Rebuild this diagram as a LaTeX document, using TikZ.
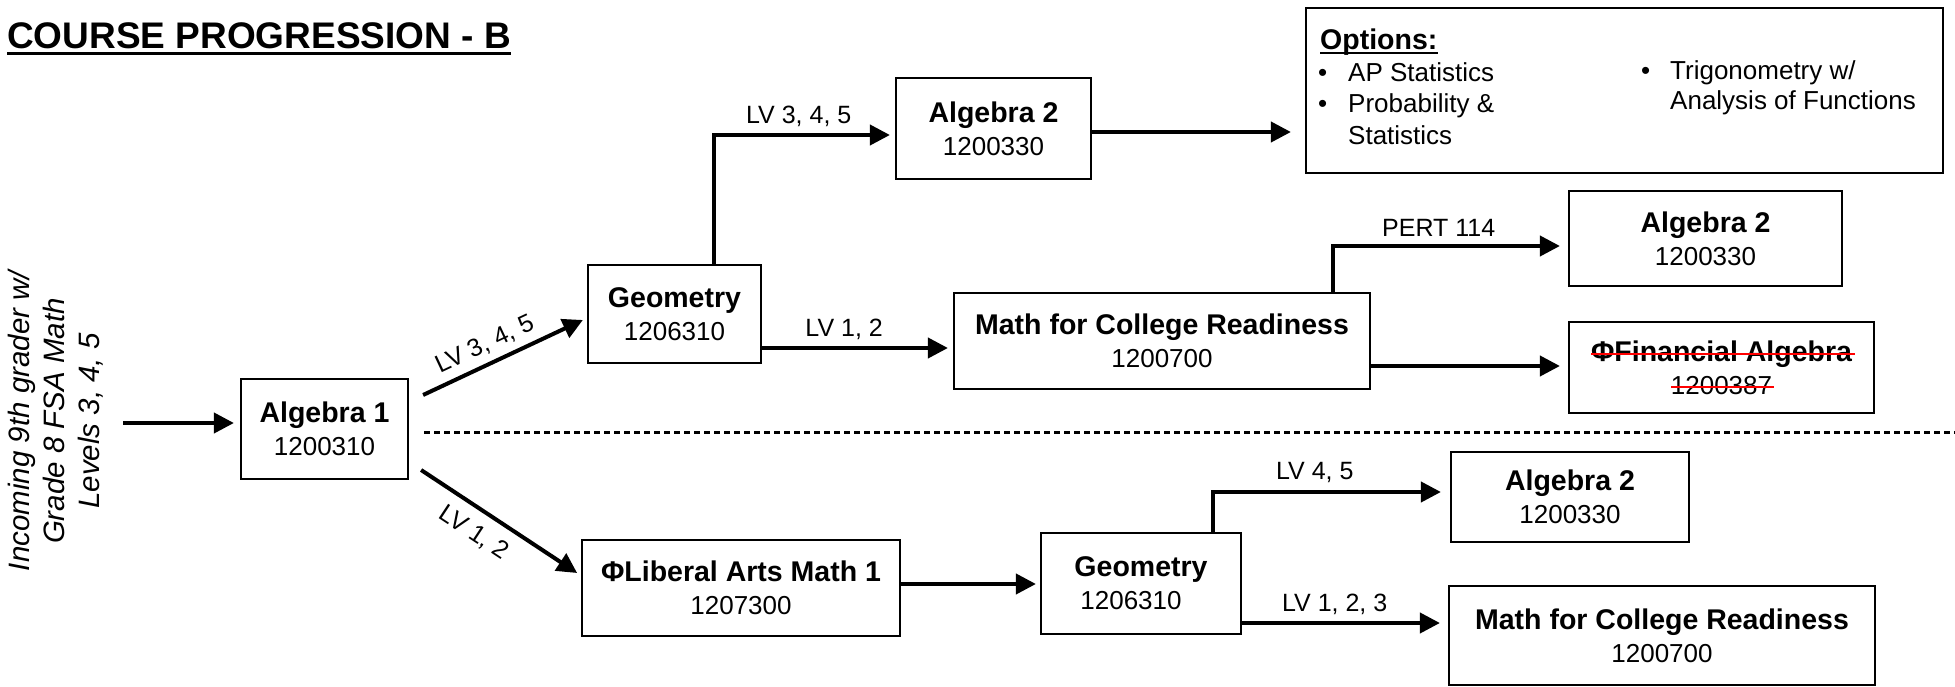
\documentclass[tikz,border=0pt]{standalone}
\usepackage{fontspec}
\setmainfont{Liberation Sans}
\usetikzlibrary{arrows.meta,calc}
\newcommand{\crs}[2]{{\fontsize{28.5}{33}\selectfont\bfseries #1}\\#2}
\begin{document}
\begin{tikzpicture}[x=1pt,y=-1pt,
  box/.style={draw, line width=2.2pt, inner sep=0pt, align=center, font=\fontsize{26}{33}\selectfont},
  conn/.style={line width=4pt},
  arr/.style={line width=4pt, -{Triangle[length=20pt,width=20pt]}, shorten >=5pt},
  lbl/.style={font=\fontsize{25}{30}\selectfont, inner sep=0pt},
  opttext/.style={font=\fontsize{26}{31}\selectfont, inner sep=0pt, anchor=base west},
  strike/.style={draw=red, line width=2pt}
]
\useasboundingbox (0,0) rectangle (1955,687);

% title
\node[inner sep=0pt, anchor=base west, font=\fontsize{37}{40}\selectfont\bfseries] (title) at (7,49) {COURSE PROGRESSION - B};
\draw[line width=3pt] ($(title.base west)+(0,5)$) -- ($(title.base east)+(0,5)$);

% rotated entry text
\node[rotate=90, align=center, inner sep=0pt, font=\fontsize{29.5}{35}\selectfont\itshape] (inc) at (56,421) {Incoming 9th grader w/\\Grade 8 FSA Math\\Levels 3, 4, 5};
\coordinate (inS) at (123,423);

% boxes
\node[box, minimum width=167pt, minimum height=100pt] (alg1) at (324.5,429) {\crs{Algebra 1}{1200310}};
\node[box, minimum width=173pt, minimum height=98pt] (geo1) at (674.5,314) {\crs{Geometry}{1206310}};
\node[box, minimum width=195pt, minimum height=101pt] (alg2a) at (993.5,128.5) {\crs{Algebra 2}{1200330}};
\node[box, minimum width=416pt, minimum height=96pt] (mcr1) at (1162,341) {\crs{Math for College Readiness}{1200700}};
\node[box, minimum width=273pt, minimum height=95pt] (alg2r) at (1705.5,238.5) {\crs{Algebra 2}{1200330}};
\node[box, minimum width=305pt, minimum height=91pt] (fin) at (1721.5,367.5) {\crs{ΦFinancial Algebra}{1200387}};
\node[box, minimum width=317.5pt, minimum height=96pt] (lib) at (741,588) {\crs{ΦLiberal Arts Math 1}{1207300}};
\node[box, minimum width=200pt, minimum height=101pt] (geo2) at (1141,583.5) {\crs{Geometry}{1206310\hspace*{20pt}}};
\node[box, minimum width=238pt, minimum height=90pt] (alg2b) at (1570,497) {\crs{Algebra 2}{1200330}};
\node[box, minimum width=426pt, minimum height=99pt] (mcr2) at (1662,635.5) {\crs{Math for College Readiness}{1200700}};

% options box
\node[draw, line width=2.2pt, minimum width=637pt, minimum height=165pt, inner sep=0pt] (opt) at (1624.5,90.5) {};
\node[opttext, font=\fontsize{28.5}{31}\selectfont\bfseries] (optT) at (1320,50) {Options:};
\draw[line width=2pt] ($(optT.base west)+(0,3)$) -- ($(optT.base east)+(0,3)$);
\node[opttext] (b1) at (1318,82) {•};
\node[opttext] (o1) at (1348,82) {AP Statistics};
\node[opttext] (b2) at (1318,113) {•};
\node[opttext] (o2) at (1348,113) {Probability \&};
\node[opttext] (o3) at (1348,145) {Statistics};
\node[opttext] (b3) at (1641,80) {•};
\node[opttext] (o4) at (1670,80) {Trigonometry w/};
\node[opttext] (o5) at (1670,110) {Analysis of Functions};

% red strike-through
\draw[strike] ($(fin.center)+(-130.5,-13.5)$) -- ($(fin.center)+(133.5,-13.5)$);
\draw[strike] ($(fin.center)+(-50.5,19.5)$) -- ($(fin.center)+(52.5,19.5)$);

% dashed separator
\coordinate (dl) at (424,432.5);
\coordinate (dr) at (1955,432.5);
\draw[line width=2.5pt, dash pattern=on 6pt off 4pt] (dl) -- (dr);

% connectors
\draw[arr, shorten >=6pt] (inS) -- (inS -| alg1.west);

\draw[arr, shorten >=0pt] ($(alg1.east)+(14,-34)$) -- node[lbl, sloped, above=7pt, pos=0.44] {LV 3, 4, 5} ($(geo1.west)+(-4,6)$);
\draw[arr, shorten >=0pt] ($(alg1.east)+(12,41)$) -- node[lbl, sloped, below=11pt, pos=0.42] {LV 1, 2} ($(lib.west)+(-4,-15)$);

\coordinate (k1) at (713.5,135);
\draw[arr] (geo1.north -| k1) -- (k1) -- node[lbl, above=6pt, pos=0.47] {LV 3, 4, 5} (k1 -| alg2a.west);

\coordinate (k2) at (761,348);
\draw[arr] (k2 -| geo1.east) -- node[lbl, above=6pt, pos=0.43] {LV 1, 2} (k2 -| mcr1.west);

\coordinate (k3) at (1091,132);
\draw[arr, shorten >=14pt] (k3 -| alg2a.east) -- (k3 -| opt.west);

\coordinate (k4) at (1333,246);
\draw[arr, shorten >=8pt] (mcr1.north -| k4) -- (k4) -- node[lbl, above=7pt, pos=0.45] {PERT 114} (k4 -| alg2r.west);

\coordinate (k5) at (1370,366);
\draw[arr, shorten >=8pt] (k5 -| mcr1.east) -- (k5 -| fin.west);

\coordinate (k6) at (900,584);
\draw[arr, shorten >=4pt] (k6 -| lib.east) -- (k6 -| geo2.west);

\coordinate (k7) at (1213,492);
\draw[arr, shorten >=9pt] (geo2.north -| k7) -- (k7) -- node[lbl, above=7pt, pos=0.43] {LV 4, 5} (k7 -| alg2b.west);

\coordinate (k8) at (1241,623);
\draw[arr, shorten >=8pt] (k8 -| geo2.east) -- node[lbl, above=6pt, pos=0.45] {LV 1, 2, 3} (k8 -| mcr2.west);

\end{tikzpicture}
\end{document}
